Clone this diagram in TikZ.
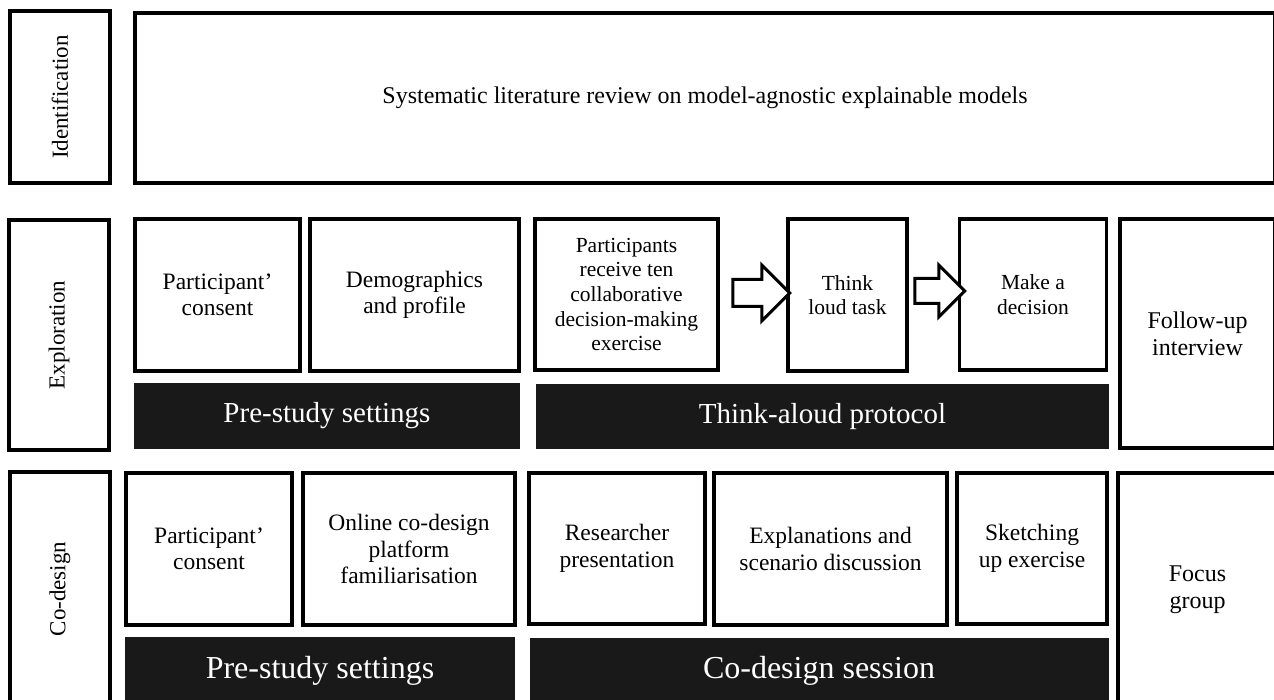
\documentclass[tikz,border=0pt]{standalone}
\usepackage{fontspec}
\setmainfont{Liberation Serif}
\usetikzlibrary{shapes.arrows,calc}

\begin{document}
\begin{tikzpicture}[x=1pt,y=-1pt,
		stage/.style={draw, line width=3.5pt, rotate=90, inner sep=0pt, font=\fontsize{23}{26}\selectfont},
		task/.style={draw, line width=3.5pt, align=center, inner sep=0pt, font=\fontsize{23.5}{26.5}\selectfont},
		tasksm/.style={task, font=\fontsize{21.5}{24.6}\selectfont},
		tasklg/.style={task, font=\fontsize{24}{27}\selectfont},
		phase/.style={fill=black!90, text=white, inner sep=0pt, font=\fontsize{29}{32}\selectfont},
		phaselg/.style={phase, font=\fontsize{32}{35}\selectfont},
		fatarrow/.style={draw, line width=3pt, fill=white, single arrow, single arrow head extend=#1, inner xsep=0pt, anchor=tail}]
		\useasboundingbox (0,0) rectangle (1274,700);
		% identification
		\node[stage, minimum width=172pt, minimum height=100pt] (ident) at (60,97) {Identification};
		\node[tasklg, minimum width=1140pt, minimum height=170pt] (slr) at (705,98) {Systematic literature review on model-agnostic explainable models};
		% exploration
		\node[stage, minimum width=230pt, minimum height=100pt] (explo) at (59,335) {Exploration};
		\node[task, minimum width=165pt, minimum height=152pt] (consA) at (217.5,295) {Participant’\\consent};
		\node[task, minimum width=209pt, minimum height=152pt] (demo) at (414.5,295) {Demographics\\and profile};
		\node[phase, minimum width=386pt, minimum height=66pt] (preA) at (327,416) {Pre-study settings};
		\node[tasksm, minimum width=183pt, minimum height=151pt] (recv) at (626.5,294.5) {Participants\\receive ten\\collaborative\\decision-making\\exercise};
		\node[tasksm, minimum width=119pt, minimum height=152pt] (think) at (847.5,295) {Think\\loud task};
		\node[tasksm, minimum width=147pt, minimum height=151pt] (decide) at (1033,294.5) {Make a\\decision};
		\node[tasklg, minimum width=155pt, minimum height=229pt] (follow) at (1197.5,333.5) {Follow-up\\interview};
		\node[phase, minimum width=573pt, minimum height=65pt] (tap) at (822.5,416.5) {Think-aloud protocol};
		\node[fatarrow=14.5pt, inner ysep=12pt, minimum height=57pt] (arrA) at ($(recv.east)+(11.5,-1.5)$) {};
		\node[fatarrow=13.5pt, inner ysep=11pt, minimum height=50pt] (arrB) at ($(think.east)+(4.5,-4)$) {};
		% co-design
		\node[stage, minimum width=234pt, minimum height=100pt] (codes) at (60,589) {Co-design};
		\node[task, minimum width=166pt, minimum height=152pt] (consB) at (209,549) {Participant’\\consent};
		\node[task, minimum width=212pt, minimum height=152pt] (online) at (409,549) {Online co-design\\platform\\familiarisation};
		\node[phaselg, minimum width=390pt, minimum height=67pt] (preB) at (320,670.5) {Pre-study settings};
		\node[task, minimum width=176pt, minimum height=151pt] (pres) at (617,548.5) {Researcher\\presentation};
		\node[task, minimum width=233pt, minimum height=152pt] (expl) at (830.5,549) {Explanations and\\scenario discussion};
		\node[task, minimum width=150pt, minimum height=151pt] (sketch) at (1032,548.5) {Sketching\\up exercise};
		\node[phaselg, minimum width=579pt, minimum height=66pt] (sess) at (819,671) {Co-design session};
		\node[tasklg, minimum width=159pt, minimum height=233pt] (focus) at (1197.5,589.5) {Focus\\group};
	\end{tikzpicture}
\end{document}
